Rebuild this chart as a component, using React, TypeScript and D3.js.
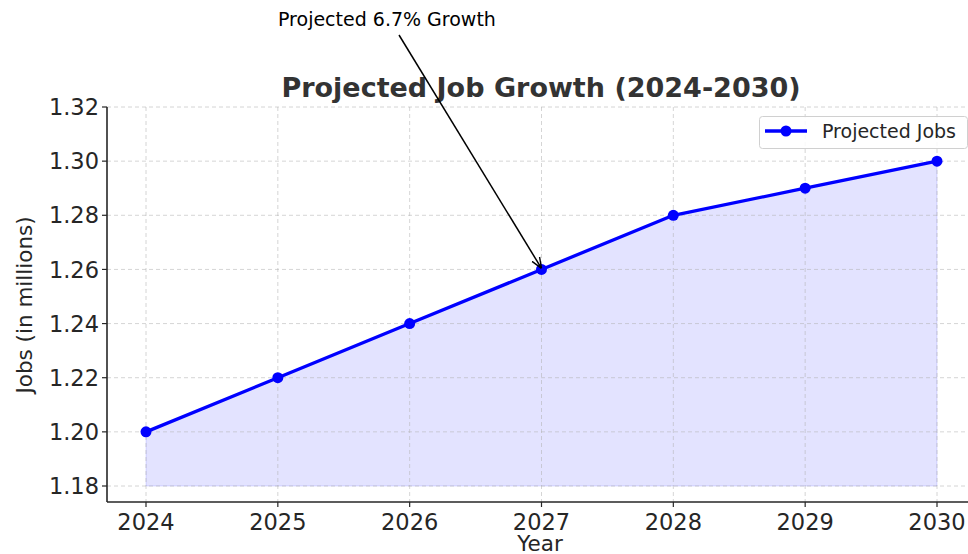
import * as d3 from 'd3'

const years = [2024, 2025, 2026, 2027, 2028, 2029, 2030]
const jobs = [1.2, 1.22, 1.24, 1.26, 1.28, 1.29, 1.3]
const yTicks = [1.18, 1.2, 1.22, 1.24, 1.26, 1.28, 1.3, 1.32]

const W = 968
const H = 554
const FONT = 'DejaVu Sans, sans-serif'

export default function App() {
  const left = 107
  const right = 968
  const top = 107
  const bottom = 502

  // scales fitted so the ticks land where the reference has them
  const x = d3.scaleLinear().domain([2024, 2030]).range([146, 937])
  const y = d3.scaleLinear().domain([1.18, 1.32]).range([486, 107])

  const pts = years.map((yr, i) => ({ yr, v: jobs[i] }))
  const line = d3.line<{ yr: number; v: number }>().x(d => x(d.yr)).y(d => y(d.v))
  const area = d3.area<{ yr: number; v: number }>()
    .x(d => x(d.yr)).y0(y(1.18)).y1(d => y(d.v))

  const arrowTip = { x: x(2027), y: y(1.26) }
  const arrowFrom = { x: 399, y: 35 }

  return (
    <svg width={W} height={H} style={{ position: 'absolute', left: 0, top: 0, background: '#fff' }} fontFamily={FONT}>
      <defs>
        <marker id="ah" viewBox="0 0 10 10" refX="10" refY="5" markerWidth="11" markerHeight="11" orient="auto" markerUnits="userSpaceOnUse">
          <path d="M0,1 L10,5 L0,9" fill="none" stroke="#000" strokeWidth={1.3} />
        </marker>
      </defs>

      <path d={area(pts) ?? ''} fill="#0000ff" fillOpacity={0.11} />
      <path d={area(pts) ?? ''} fill="none" stroke="#0000ff" strokeOpacity={0.12} strokeWidth={1} />

      {years.map(yr => (
        <line key={'gx' + yr} x1={x(yr)} x2={x(yr)} y1={top} y2={bottom}
          stroke="#b0b0b0" strokeOpacity={0.6} strokeDasharray="4,3" strokeWidth={0.9} />
      ))}
      {yTicks.map(t => (
        <line key={'gy' + t} x1={left} x2={right} y1={y(t)} y2={y(t)}
          stroke="#b0b0b0" strokeOpacity={0.6} strokeDasharray="4,3" strokeWidth={0.9} />
      ))}

      <path d={line(pts) ?? ''} fill="none" stroke="#0000ff" strokeWidth={3.3} strokeLinejoin="round" />
      {pts.map(p => (
        <circle key={p.yr} cx={x(p.yr)} cy={y(p.v)} r={5.5} fill="#0000ff" />
      ))}

      {/* spines */}
      <line x1={left} x2={left} y1={top} y2={bottom} stroke="#262626" strokeWidth={1.6} />
      <line x1={left} x2={right} y1={bottom} y2={bottom} stroke="#262626" strokeWidth={1.6} />

      {yTicks.map(t => (
        <g key={'ty' + t}>
          <line x1={left - 5} x2={left} y1={y(t)} y2={y(t)} stroke="#262626" strokeWidth={1.2} />
          <text x={left - 8} y={y(t)} dy="0.36em" textAnchor="end" fontSize={22.5} fill="#262626">
            {t.toFixed(2)}
          </text>
        </g>
      ))}
      {years.map(yr => (
        <g key={'tx' + yr}>
          <line x1={x(yr)} x2={x(yr)} y1={bottom} y2={bottom + 5} stroke="#262626" strokeWidth={1.2} />
          <text x={x(yr)} y={bottom + 28} textAnchor="middle" fontSize={22.5} fill="#262626">{yr}</text>
        </g>
      ))}

      <text x={540} y={551} textAnchor="middle" fontSize={21.5} fill="#262626">Year</text>
      <text transform={`translate(32,305) rotate(-90)`} textAnchor="middle" fontSize={21.5} fill="#262626">
        Jobs (in millions)
      </text>

      <text x={541} y={97} textAnchor="middle" fontSize={27} fontWeight="bold" fill="#333333">
        Projected Job Growth (2024-2030)
      </text>

      <line x1={arrowFrom.x} y1={arrowFrom.y} x2={arrowTip.x} y2={arrowTip.y - 1}
        stroke="#000" strokeWidth={1.5} markerEnd="url(#ah)" />
      <text x={278} y={26} fontSize={19} fill="#000">Projected 6.7% Growth</text>

      {/* legend */}
      <rect x={759.5} y={116.5} width={208} height={32} rx={3} fill="#fff" fillOpacity={0.85} stroke="#d0d0d0" />
      <line x1={765} x2={807} y1={131} y2={131} stroke="#0000ff" strokeWidth={3.3} />
      <circle cx={786} cy={131} r={5.5} fill="#0000ff" />
      <text x={822} y={131} dy="0.36em" fontSize={19} fill="#262626">Projected Jobs</text>
    </svg>
  )
}
